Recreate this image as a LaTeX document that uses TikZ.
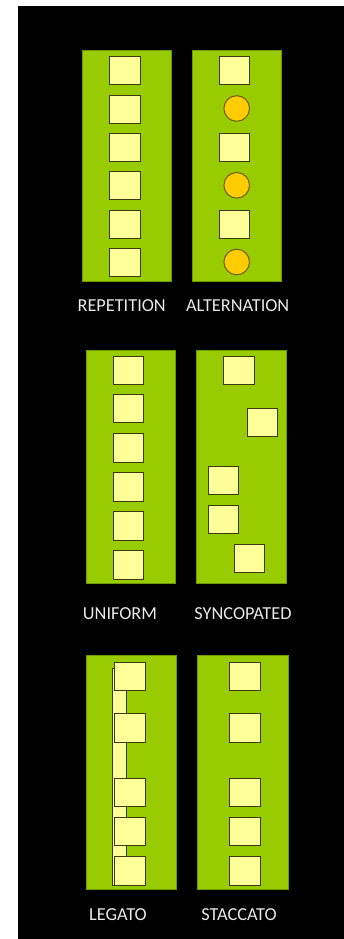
\documentclass[tikz,border=0pt]{standalone}
\usepackage{fontspec}
\setmainfont{Carlito}
\definecolor{bggreen}{HTML}{99CC00}
\definecolor{edgegreen}{HTML}{6E9A00}
\definecolor{note}{HTML}{FFFF99}
\definecolor{noteedge}{HTML}{3A3A10}
\definecolor{dot}{HTML}{FFCC00}
\definecolor{dotedge}{HTML}{6E5A10}
\definecolor{labelgray}{HTML}{E8E8E8}
\tikzset{
  panel/.style={draw=edgegreen, fill=bggreen, line width=0.8pt, inner sep=0pt, minimum width=89pt, minimum height=231pt},
  sq/.style={draw=noteedge, fill=note, line width=1pt, inner sep=0pt, minimum width=30pt, minimum height=28pt},
  circ/.style={circle, draw=dotedge, fill=dot, line width=1pt, inner sep=0pt, minimum size=25.6pt},
  lbl/.style={text=labelgray, font=\fontsize{18.3}{21}\selectfont, inner sep=0pt, anchor=center},
  bar/.style={draw=noteedge, fill=note, line width=1pt, inner sep=0pt}
}
\begin{document}
\begin{tikzpicture}[x=1pt, y=-1pt]
\useasboundingbox (0,0) rectangle (344,939);
\fill[white] (0,0) rectangle (344,939);
\fill[black] (18,6) rectangle (344,939);

% Row 1
\node[panel, minimum width=88.7pt, minimum height=230.3pt] (p1) at (126.7,165.85) {};
\node[panel, minimum width=89pt, minimum height=230.3pt] (p2) at (236.8,165.85) {};
\foreach \i/\y in {1/70.7,2/109.1,3/147.5,4/185.9,5/224.3,6/262.7}{
  \node[sq, minimum width=30.6pt] (r\i) at (125,\y) {};
}
\node[sq, minimum width=29.6pt] (a1) at (234.5,70.7) {};
\node[circ] (a2) at (236.7,108.5) {};
\node[sq, minimum width=29.6pt] (a3) at (234.5,147.3) {};
\node[circ] (a4) at (236.7,185.3) {};
\node[sq, minimum width=29.6pt] (a5) at (234.5,224.3) {};
\node[circ] (a6) at (236.7,262) {};
\node[lbl] (l1) at (121.7,306) {REPETITION};
\node[lbl] (l2) at (237.7,306) {ALTERNATION};

% Row 2
\node[panel, minimum width=89.7pt, minimum height=233.3pt] (p3) at (130.85,466.65) {};
\node[panel, minimum width=90.7pt, minimum height=233.3pt] (p4) at (241.35,466.65) {};
\foreach \i/\y in {1/370.3,2/408.8,3/448,4/487,5/526,6/565}{
  \node[sq, minimum width=29.6pt, minimum height=28.3pt] (u\i) at (128.5,\y) {};
}
\node[sq, minimum width=30.6pt, minimum height=28pt] (s1) at (239,370.3) {};
\node[sq, minimum width=30pt, minimum height=28.3pt] (s2) at (262.3,422.2) {};
\node[sq, minimum width=29.6pt, minimum height=28.3pt] (s3) at (223.5,480.8) {};
\node[sq, minimum width=29.6pt, minimum height=28.3pt] (s4) at (223.5,519.8) {};
\node[sq, minimum width=30.4pt, minimum height=28.3pt] (s5) at (249.5,558.8) {};
\node[lbl] (l3) at (120,614) {UNIFORM};
\node[lbl] (l4) at (243,614) {SYNCOPATED};

% Row 3
\node[panel, minimum width=90pt, minimum height=233.7pt] (p5) at (131.7,772.15) {};
\node[panel, minimum width=90.7pt, minimum height=233.7pt] (p6) at (242.65,772.15) {};
\node[bar, minimum width=14.3pt, minimum height=217pt] (tie) at (119.15,776.8) {};
\foreach \i/\y in {1/676.2,2/728,3/792.8,4/831.8,5/871}{
  \node[sq, minimum width=30.6pt, minimum height=28.3pt] (g\i) at (130,\y) {};
  \node[sq, minimum width=30.6pt, minimum height=28.3pt] (c\i) at (245,\y) {};
}
\node[lbl] (l5) at (118,914.3) {LEGATO};
\node[lbl] (l6) at (239,914.3) {STACCATO};
\end{tikzpicture}
\end{document}
